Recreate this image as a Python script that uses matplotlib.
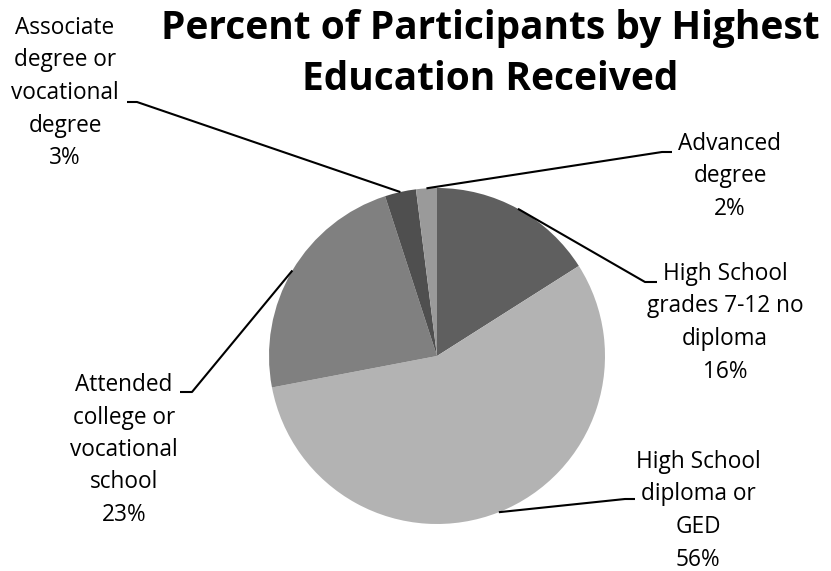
import numpy as np
import matplotlib.pyplot as plt

# education categories, clockwise from 12 o'clock
labels = ["High School\ngrades 7-12 no\ndiploma",
          "High School\ndiploma or\nGED",
          "Attended\ncollege or\nvocational\nschool",
          "Associate\ndegree or\nvocational\ndegree",
          "Advanced\ndegree"]
percents = [16, 56, 23, 3, 2]
colors = ["#5f5f5f", "#b3b3b3", "#808080", "#4f4f4f", "#9a9a9a"]

W, H = 831, 571
fig = plt.figure(figsize=(W / 100, H / 100), dpi=100)
ax = fig.add_axes([0, 0, 1, 1])

plt.rcParams["font.family"] = ["Open Sans", "DejaVu Sans"]

cx, cy, r = 437, H - 356, 168
wedges, _ = ax.pie(percents, colors=colors, startangle=90, counterclock=False,
                   center=(cx, cy), radius=r, frame=True,
                   wedgeprops=dict(linewidth=0))
ax.set_xlim(0, W)
ax.set_ylim(0, H)
ax.set_aspect("equal")
ax.axis("off")

# label block centre, first-line y, and the elbow of each leader (image px)
text_pos = [(725, 274), (698, 462), (124, 385), (65, 28), (730, 144)]
elbows = [((657, 282), (645, 282)),
          ((635, 499), (625, 499)),
          ((180, 392), (192, 392)),
          ((127, 102), (137, 102)),
          ((672, 152), (662, 152))]
line_gap = 32.5

for w, lab, p, (tx, ty), (e1, e2) in zip(wedges, labels, percents, text_pos, elbows):
    ang = np.deg2rad((w.theta1 + w.theta2) / 2)
    sx, sy = cx + r * np.cos(ang), cy + r * np.sin(ang)
    ax.plot([sx, e2[0], e1[0]], [sy, H - e2[1], H - e1[1]],
            color="black", lw=1.5, solid_capstyle="butt")
    lines = lab.split("\n") + ["%d%%" % p]
    for i, s in enumerate(lines):
        ax.text(tx, H - (ty + i * line_gap), s, ha="center", va="center",
                fontsize=16.3, color="black")

ax.text(490, H - 29, "Percent of Participants by Highest", ha="center",
        va="center", fontsize=28, fontweight="bold")
ax.text(490, H - 80, "Education Received", ha="center",
        va="center", fontsize=28, fontweight="bold")

fig.savefig("out.png", dpi=100)
